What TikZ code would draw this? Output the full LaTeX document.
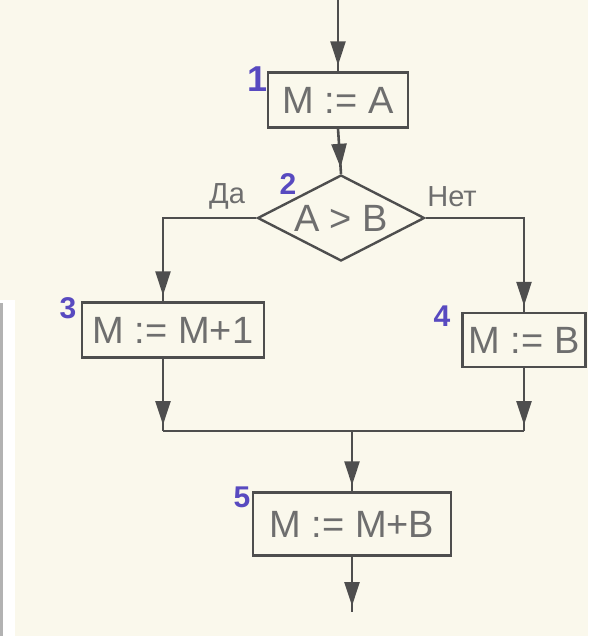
\documentclass[tikz,border=0pt]{standalone}
\usepackage{fontspec}
\setmainfont{Liberation Sans}
\usetikzlibrary{arrows.meta,shapes.geometric,decorations.markings}
\definecolor{paper}{HTML}{FAF8EC}
\definecolor{ink}{HTML}{4E4E4E}
\definecolor{txt}{HTML}{6E6E6E}
\definecolor{numcol}{RGB}{88,74,192}

\begin{document}
\begin{tikzpicture}[x=1pt,y=-1pt,
  conn/.style={draw=ink, line width=2.6pt},
  flow/.style={conn, postaction={decorate, decoration={markings,
      mark=at position -6pt with {\arrow[ink]{Triangle[length=24pt,width=15pt]}}}}},
  blk/.style={draw=ink, line width=2.4pt, rectangle, inner sep=0pt,
      font=\fontsize{38}{40}\selectfont, text=txt},
  numlab/.style={font=\fontsize{30}{32}\selectfont\bfseries, text=numcol, inner sep=0pt},
  yesno/.style={font=\fontsize{29}{31}\selectfont, text=txt, inner sep=0pt}]
\useasboundingbox (0,0) rectangle (588,636);
\fill[paper] (0,0) rectangle (588,636);
% page edge of the scan
\fill[white] (0,300) rectangle (15,636);
\fill[gray!60] (0,303) rectangle (3,636);

\coordinate (entry) at (338,0);
\node[blk, minimum width=140pt, minimum height=55pt] (box1) at (338,100) {M := A};
\node[draw=ink, line width=2.4pt, diamond, aspect=1.94, inner sep=0pt, minimum width=167pt, minimum height=86pt,
  font=\fontsize{38}{40}\selectfont, text=txt] (dia) at (341,218) {A > B};
\node[blk, minimum width=182pt, minimum height=55pt] (box3) at (173,330) {M := M+1};
\node[blk, minimum width=123pt, minimum height=54pt] (box4) at (524,340) {M := B};
\coordinate (junc) at (352,431);
\node[blk, minimum width=198pt, minimum height=63pt] (box5) at (352,524) {M := M+B};
\coordinate (exit) at (352,612);

\node[numlab, font=\fontsize{36}{38}\selectfont\bfseries] (n1) at (258,79) {1};
\node[numlab] (n2) at (288,184) {2};
\node[numlab] (n3) at (68,308) {3};
\node[numlab] (n4) at (442,316) {4};
\node[numlab] (n5) at (242,497) {5};
\node[yesno] (yes) at (227,196) {Да};
\node[yesno] (no) at (452,197) {Нет};

\draw[flow] (entry) -- (box1.north);
\draw[flow] (box1.south) -- (dia.north);
\draw[flow] (dia.west) -| ([xshift=-10pt]box3.north);
\draw[flow] (dia.east) -| (box4.north);
\draw[flow] ([xshift=-10pt]box3.south) -- ([xshift=-10pt]box3.south |- junc);
\draw[flow] (box4.south) -- (box4.south |- junc);
\draw[conn] ([xshift=-10pt]box3.south |- junc) -- (box4.south |- junc);
\draw[flow] (junc) -- (box5.north);
\draw[flow] (box5.south) -- (exit);
\end{tikzpicture}
\end{document}
